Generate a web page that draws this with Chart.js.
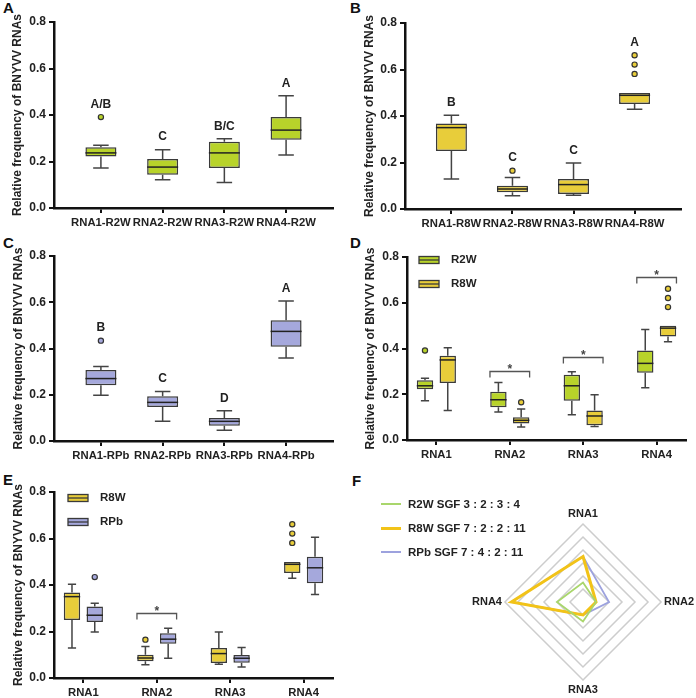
<!DOCTYPE html>
<html>
<head>
<meta charset="utf-8">
<script src="https://cdn.jsdelivr.net/npm/chart.js@4.4.0/dist/chart.umd.min.js"></script>
<style>
  html, body { margin: 0; padding: 0; background: #fff; overflow: hidden; width: 696px; height: 698px; }
  canvas { position: absolute; }
  .tag { position: absolute; font: bold 15px 'Liberation Sans', Arial, sans-serif; line-height: 15px; color: #111; }
  #legF { position: absolute; left: 381px; top: 492px; font: bold 11.5px 'Liberation Sans', Arial, sans-serif; color: #222; }
  #legF div { height: 24px; display: flex; align-items: center; }
  #legF span.ln { display: inline-block; width: 20px; margin-right: 7px; }
</style>
</head>
<body>
<div class="tag" style="left:3px;top:0px">A</div>
<div class="tag" style="left:350px;top:0px">B</div>
<div class="tag" style="left:3px;top:235px">C</div>
<div class="tag" style="left:350px;top:235px">D</div>
<div class="tag" style="left:3px;top:472px">E</div>
<div class="tag" style="left:352px;top:473px">F</div>
<canvas id="chartA"></canvas>
<canvas id="chartB"></canvas>
<canvas id="chartC"></canvas>
<canvas id="chartD"></canvas>
<canvas id="chartE"></canvas>
<canvas id="chartF"></canvas>
<div id="legF"></div>
<script>
var rnaNames = ['RNA1', 'RNA2', 'RNA3', 'RNA4'];
var labelsA = ['RNA1-R2W', 'RNA2-R2W', 'RNA3-R2W', 'RNA4-R2W'];
var labelsB = ['RNA1-R8W', 'RNA2-R8W', 'RNA3-R8W', 'RNA4-R8W'];
var labelsC = ['RNA1-RPb', 'RNA2-RPb', 'RNA3-RPb', 'RNA4-RPb'];

// box statistics (whisker low, Q1, median, Q3, whisker high, outliers)
var r2wMin = [0.172, 0.122, 0.110, 0.228];
var r2wQ1 = [0.222, 0.143, 0.172, 0.294];
var r2wMed = [0.237, 0.176, 0.237, 0.335];
var r2wQ3 = [0.261, 0.211, 0.285, 0.391];
var r2wMax = [0.270, 0.251, 0.298, 0.483];
var r2wOut = [[0.391], [], [], []];

var r8wMin = [0.129, 0.057, 0.059, 0.429];
var r8wQ1 = [0.249, 0.072, 0.065, 0.452];
var r8wMed = [0.350, 0.086, 0.105, 0.489];
var r8wQ3 = [0.368, 0.100, 0.129, 0.499];
var r8wMax = [0.403, 0.135, 0.198, 0.499];
var r8wOut = [[], [0.165], [], [0.581, 0.621, 0.661]];

var rpbMin = [0.198, 0.085, 0.047, 0.359];
var rpbQ1 = [0.241, 0.147, 0.066, 0.408];
var rpbMed = [0.270, 0.167, 0.085, 0.474];
var rpbQ3 = [0.307, 0.193, 0.099, 0.522];
var rpbMax = [0.322, 0.214, 0.131, 0.605];
var rpbOut = [[0.434], [], [], []];

// group letters (A-C) and significance bars (D, E)
var lettersA = ['A/B', 'C', 'B/C', 'A'];
var lettersB = ['B', 'C', 'C', 'A'];
var lettersC = ['B', 'C', 'D', 'A'];
var starsD = [null, 0.302, 0.361, 0.713];
var starsE = [null, 0.280, null, null];

// segment ratios for the radar
var r2wSgf = [3, 2, 3, 4];
var r8wSgf = [7, 2, 2, 11];
var rpbSgf = [7, 4, 2, 11];

var fam = "'Liberation Sans', Arial, sans-serif";
Chart.defaults.font.family = fam;
Chart.defaults.color = '#222';

var green = '#b8d32a';
var yellow = '#e8cd3a';
var blue = '#a5a8dc';

var r2w = { name: 'R2W', color: green, min: r2wMin, q1: r2wQ1, med: r2wMed, q3: r2wQ3, max: r2wMax, out: r2wOut };
var r8w = { name: 'R8W', color: yellow, min: r8wMin, q1: r8wQ1, med: r8wMed, q3: r8wQ3, max: r8wMax, out: r8wOut };
var rpb = { name: 'RPb', color: blue, min: rpbMin, q1: rpbQ1, med: rpbMed, q3: rpbQ3, max: rpbMax, out: rpbOut };

function boxParts(extra) {
    return {
        id: 'boxParts',
        afterDatasetsDraw: function (chart) {
            var ctx = chart.ctx, ys = chart.scales.y;
            ctx.save();
            chart.data.datasets.forEach(function (ds, d) {
                var s = extra.series[d];
                chart.getDatasetMeta(d).data.forEach(function (bar, i) {
                    var cx = bar.x, half = bar.width / 2, cap = bar.width / 4;
                    var pMin = ys.getPixelForValue(s.min[i]);
                    var pQ1 = ys.getPixelForValue(s.q1[i]);
                    var pMed = ys.getPixelForValue(s.med[i]);
                    var pQ3 = ys.getPixelForValue(s.q3[i]);
                    var pMax = ys.getPixelForValue(s.max[i]);
                    ctx.strokeStyle = '#444';
                    ctx.lineWidth = 1.5;
                    ctx.beginPath();
                    if (pMax < pQ3 - 0.5) {
                        ctx.moveTo(cx, pQ3); ctx.lineTo(cx, pMax);
                        ctx.moveTo(cx - cap, pMax); ctx.lineTo(cx + cap, pMax);
                    }
                    if (pMin > pQ1 + 0.5) {
                        ctx.moveTo(cx, pQ1); ctx.lineTo(cx, pMin);
                        ctx.moveTo(cx - cap, pMin); ctx.lineTo(cx + cap, pMin);
                    }
                    ctx.stroke();
                    ctx.strokeStyle = '#222';
                    ctx.beginPath();
                    ctx.moveTo(cx - half, pMed); ctx.lineTo(cx + half, pMed);
                    ctx.stroke();
                    s.out[i].forEach(function (v) {
                        ctx.beginPath();
                        ctx.arc(cx, ys.getPixelForValue(v), 2.6, 0, Math.PI * 2);
                        ctx.fillStyle = s.color;
                        ctx.fill();
                        ctx.lineWidth = 1.2;
                        ctx.strokeStyle = '#333';
                        ctx.stroke();
                    });
                });
            });
            ctx.restore();
        },
        afterDraw: function (chart) {
            var ctx = chart.ctx, xs = chart.scales.x, ys = chart.scales.y, area = chart.chartArea;
            ctx.save();
            ctx.font = 'bold 12px ' + fam;
            ctx.fillStyle = '#222';
            ctx.textAlign = 'center';
            ctx.textBaseline = 'middle';
            if (extra.letters) {
                var s = extra.series[0];
                extra.letters.forEach(function (txt, i) {
                    var top = Math.max.apply(null, [s.max[i]].concat(s.out[i]));
                    ctx.fillText(txt, xs.getPixelForValue(i), ys.getPixelForValue(top) - 12.5);
                });
            }
            if (extra.stars) {
                extra.stars.forEach(function (lvl, i) {
                    if (lvl === null) return;
                    var x1 = xs.getPixelForValue(i - 0.27), x2 = xs.getPixelForValue(i + 0.27);
                    var py = Math.round(ys.getPixelForValue(lvl)) + 0.5;
                    ctx.strokeStyle = '#555';
                    ctx.lineWidth = 1.3;
                    ctx.beginPath();
                    ctx.moveTo(x1, py + 6); ctx.lineTo(x1, py); ctx.lineTo(x2, py); ctx.lineTo(x2, py + 6);
                    ctx.stroke();
                    ctx.fillStyle = '#444';
                    ctx.textBaseline = 'alphabetic';
                    ctx.fillText('*', (x1 + x2) / 2, py + 1);
                });
            }
            if (extra.legendTop !== undefined) {
                ctx.font = 'bold 11.5px ' + fam;
                ctx.textAlign = 'left';
                ctx.textBaseline = 'middle';
                extra.series.forEach(function (s, k) {
                    var cy = area.top + extra.legendTop + k * 24;
                    var lx = area.left + extra.legendLeft;
                    ctx.fillStyle = s.color;
                    ctx.fillRect(lx, cy - 3.5, 20, 7);
                    ctx.strokeStyle = '#3a3a3a';
                    ctx.lineWidth = 1.3;
                    ctx.strokeRect(lx, cy - 3.5, 20, 7);
                    ctx.beginPath();
                    ctx.moveTo(lx, cy); ctx.lineTo(lx + 20, cy);
                    ctx.stroke();
                    ctx.fillStyle = '#222';
                    ctx.fillText(s.name, lx + 32, cy);
                });
            }
            ctx.restore();
        }
    };
}

function makeBox(id, geo, xRange, tickLabels, series, extra) {
    var cv = document.getElementById(id);
    cv.width = geo.w;
    cv.height = geo.h;
    cv.style.left = geo.left + 'px';
    cv.style.top = geo.top + 'px';
    extra.series = series;
    var datasets = series.map(function (s) {
        return {
            label: s.name,
            data: tickLabels.map(function (t, i) {
                return { x: i + (s.shift || 0), y: [s.q1[i], s.q3[i]] };
            }),
            backgroundColor: s.color,
            borderColor: '#3a3a3a',
            borderWidth: 1.5,
            borderSkipped: false,
            grouped: false,
            barPercentage: 0.9,
            maxBarThickness: geo.box
        };
    });
    return new Chart(cv, {
        type: 'bar',
        data: { datasets: datasets },
        plugins: [boxParts(extra)],
        options: {
            responsive: false,
            animation: false,
            layout: { padding: { top: geo.area.t - geo.top, right: geo.left + geo.w - geo.area.r, left: 0, bottom: 0 } },
            plugins: { legend: { display: false }, tooltip: { enabled: false } },
            scales: {
                x: {
                    type: 'linear', min: xRange[0], max: xRange[1], bounds: 'data', offset: false,
                    afterBuildTicks: function (s) {
                        s.ticks = tickLabels.map(function (t, i) { return { value: i }; });
                    },
                    afterFit: function (s) { s.height = geo.top + geo.h - geo.area.b; },
                    ticks: {
                        autoSkip: false, maxRotation: 0, minRotation: 0, padding: 3,
                        font: { size: 11.3, weight: 'bold' }, color: '#222',
                        callback: function (v) { return tickLabels[v]; }
                    },
                    grid: { drawOnChartArea: false, offset: false, tickLength: 5, lineWidth: 2, color: '#111' },
                    border: { color: '#111', width: 2.5 }
                },
                y: {
                    min: 0, max: 0.8,
                    afterFit: function (s) { s.width = geo.area.l - geo.left; },
                    ticks: {
                        stepSize: 0.2, padding: 3,
                        font: { size: 12, weight: 'bold' }, color: '#222',
                        callback: function (v) { return v.toFixed(1); }
                    },
                    grid: { drawOnChartArea: false, tickLength: 5, lineWidth: 2, color: '#111' },
                    border: { color: '#111', width: 2.5 },
                    title: {
                        display: true, text: 'Relative frequency of BNYVV RNAs',
                        font: { size: 12, weight: 'bold' }, color: '#222',
                        padding: { top: geo.title, bottom: 0 }
                    }
                }
            }
        }
    });
}

function shifted(s, d) {
    return Object.assign({}, s, { shift: d });
}

makeBox('chartA', { left: 0, top: 0, w: 348, h: 232, area: { l: 54, t: 22, r: 333, b: 208 }, box: 31, title: 10 },
    [-0.76, 3.76], labelsA, [r2w], { letters: lettersA });
makeBox('chartB', { left: 348, top: 0, w: 348, h: 232, area: { l: 405, t: 23, r: 681, b: 209 }, box: 31, title: 14 },
    [-0.76, 3.76], labelsB, [r8w], { letters: lettersB });
makeBox('chartC', { left: 0, top: 232, w: 348, h: 232, area: { l: 54, t: 256, r: 333, b: 441 }, box: 31, title: 11 },
    [-0.76, 3.76], labelsC, [rpb], { letters: lettersC });
makeBox('chartD', { left: 348, top: 232, w: 348, h: 232, area: { l: 407, t: 257, r: 686, b: 440 }, box: 18, title: 15 },
    [-0.4, 3.4], rnaNames, [shifted(r2w, -0.155), shifted(r8w, 0.155)], { stars: starsD, legendTop: 3, legendLeft: 12 });
makeBox('chartE', { left: 0, top: 466, w: 348, h: 232, area: { l: 54, t: 492, r: 333, b: 678 }, box: 18, title: 11 },
    [-0.4, 3.4], rnaNames, [shifted(r8w, -0.155), shifted(rpb, 0.155)], { stars: starsE, legendTop: 6, legendLeft: 14 });

// radar (F)
var cvF = document.getElementById('chartF');
cvF.width = 222;
cvF.height = 222;
cvF.style.left = '472px';
cvF.style.top = '491px';
var radarSeries = [
    { name: 'R2W', data: r2wSgf, color: '#a9d66c', width: 1.8 },
    { name: 'R8W', data: r8wSgf, color: '#f2c318', width: 3 },
    { name: 'RPb', data: rpbSgf, color: '#9da2de', width: 1.8 }
];
new Chart(cvF, {
    type: 'radar',
    data: {
        labels: rnaNames,
        datasets: radarSeries.map(function (s) {
            return { label: s.name, data: s.data, borderColor: s.color, borderWidth: s.width, pointRadius: 0, fill: false };
        })
    },
    options: {
        responsive: false,
        animation: false,
        plugins: { legend: { display: false }, tooltip: { enabled: false } },
        scales: {
            r: {
                min: 0, max: 12,
                ticks: { display: false, stepSize: 2 },
                grid: { color: '#cdcdcd', lineWidth: 1.5 },
                angleLines: { display: false },
                pointLabels: { font: { size: 11, weight: 'bold' }, color: '#222', padding: 3 }
            }
        }
    }
});

var legF = document.getElementById('legF');
radarSeries.forEach(function (s) {
    var row = document.createElement('div');
    var ln = document.createElement('span');
    ln.className = 'ln';
    ln.style.borderTop = (s.width + 0.7) + 'px solid ' + s.color;
    row.appendChild(ln);
    row.appendChild(document.createTextNode(s.name + ' SGF ' + s.data.join(' : ')));
    legF.appendChild(row);
});
</script>
</body>
</html>
